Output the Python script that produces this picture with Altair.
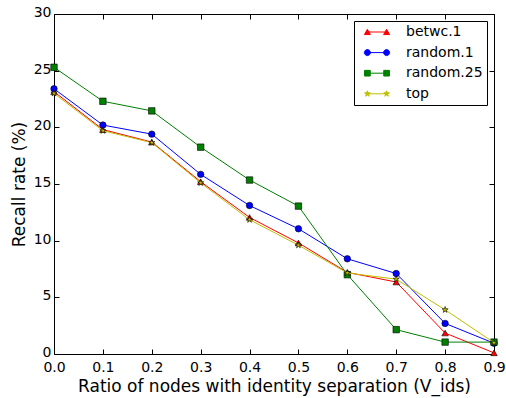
import altair as alt
import pandas as pd

# ---- data ----
x_vals = [0.0, 0.1, 0.2, 0.3, 0.4, 0.5, 0.6, 0.7, 0.8, 0.9]
betwc_1 = [23.15, 19.8, 18.7, 15.2, 12.05, 9.8, 7.2, 6.35, 1.85, 0.1]
random_1 = [23.4, 20.2, 19.4, 15.85, 13.1, 11.05, 8.4, 7.1, 2.7, 0.95]
random_25 = [25.3, 22.3, 21.45, 18.25, 15.35, 13.05, 7.0, 2.15, 1.05, 1.05]
top = [23.0, 19.7, 18.65, 15.1, 11.85, 9.6, 7.15, 6.6, 3.9, 1.0]

series_names = ["betwc.1", "random.1", "random.25", "top"]
series_values = [betwc_1, random_1, random_25, top]
colors = ["#ff0000", "#0000ff", "#008000", "#bfbf00"]

x_ticks = [0.0, 0.1, 0.2, 0.3, 0.4, 0.5, 0.6, 0.7, 0.8, 0.9]
y_ticks = [0, 5, 10, 15, 20, 25, 30]

# ---- marker shapes (unit coordinates) ----
STAR = ("M0,-1L0.225,-0.309L0.951,-0.309L0.363,0.118L0.588,0.809L0,0.382"
        "L-0.588,0.809L-0.363,0.118L-0.951,-0.309L-0.225,-0.309Z")
markers = ["triangle-up", "circle", "square", STAR]


def shifted(path_kind, dx):
    if path_kind == "tri":
        return f"M{dx},-0.9L{dx+1},0.85L{dx-1},0.85Z"
    if path_kind == "circ":
        return f"M{dx-1},0A1,1,0,1,1,{dx+1},0A1,1,0,1,1,{dx-1},0Z"
    if path_kind == "sq":
        return f"M{dx-0.95},-0.95L{dx+0.95},-0.95L{dx+0.95},0.95L{dx-0.95},0.95Z"
    pts = [(0, -1), (0.225, -0.309), (0.951, -0.309), (0.363, 0.118), (0.588, 0.809),
           (0, 0.382), (-0.588, 0.809), (-0.363, 0.118), (-0.951, -0.309), (-0.225, -0.309)]
    return "M" + "L".join(f"{px*1.0+dx:.3f},{py*1.0:.3f}" for px, py in pts) + "Z"


D = 3.2
legend_paths = []
for kind in ["tri", "circ", "sq", "star"]:
    legend_paths.append(f"M{-D},0L{D},0" + shifted(kind, -D) + shifted(kind, D))

rows = []
for name, vals in zip(series_names, series_values):
    for xv, yv in zip(x_vals, vals):
        rows.append({"x": xv, "y": yv, "series": name})
df = pd.DataFrame(rows)

W, H = 440, 340
FONT = "DejaVu Sans"

x_enc = alt.X(
    "x:Q",
    scale=alt.Scale(domain=[0, 0.9], nice=False, zero=False),
    axis=alt.Axis(
        values=x_ticks, format=".1f", labelFlush=False,
        title="Ratio of nodes with identity separation (V_ids)",
        grid=True, gridDash=[5, H - 10, 5, 2000], gridColor="black",
        gridWidth=1, gridOpacity=1,
    ),
)
y_enc = alt.Y(
    "y:Q",
    scale=alt.Scale(domain=[0, 30], nice=False, zero=False),
    axis=alt.Axis(
        values=y_ticks, format="d", title="Recall rate (%)", labelFlush=False,
        labelOffset=-1.5,
        grid=True, gridDash=[5, W - 10, 5, 2000], gridColor="black",
        gridWidth=1, gridOpacity=1,
    ),
)

base = alt.Chart(df)
layers = []
for name, col, mk in zip(series_names, colors, markers):
    sub = base.transform_filter(alt.datum.series == name)
    layers.append(sub.mark_line(color=col, strokeWidth=1).encode(x=x_enc, y=y_enc))
    layers.append(
        sub.mark_point(shape=mk, filled=True, fill=col, stroke="black",
                       strokeWidth=0.6, size=42, opacity=1).encode(x=x_enc, y=y_enc)
    )

leg = alt.Legend(title=None, symbolSize=36)
legend_layer = base.transform_filter("false").mark_point(
    filled=True, size=36, opacity=1, strokeWidth=1
).encode(
    x=x_enc, y=y_enc,
    fill=alt.Fill("series:N", scale=alt.Scale(domain=series_names, range=colors), legend=leg),
    stroke=alt.Stroke("series:N", scale=alt.Scale(domain=series_names, range=colors), legend=leg),
    shape=alt.Shape("series:N", scale=alt.Scale(domain=series_names, range=legend_paths), legend=leg),
)
layers.append(legend_layer)

chart = alt.layer(*layers).properties(
    width=W, height=H,
    autosize=alt.AutoSizeParams(type="none"),
    padding={"left": 54, "top": 14, "right": 12, "bottom": 44},
).configure(
    font=FONT,
).configure_view(
    stroke="black", strokeWidth=1,
).configure_axis(
    domainColor="black", domainWidth=1, ticks=False,
    labelFont=FONT, labelFontSize=14, labelColor="black",
    titleFont=FONT, titleFontSize=17, titleFontWeight="normal", titleColor="black",
).configure_axisX(
    labelPadding=6, titlePadding=4,
).configure_axisY(
    labelPadding=3, titlePadding=5,
).configure_legend(
    orient="top-right", offset=7, fillColor="white", strokeColor="black",
    padding=4, cornerRadius=0, labelFont=FONT, labelFontSize=14, labelColor="black",
    symbolOffset=12, labelOffset=22, rowPadding=6.6, symbolStrokeWidth=1,
    symbolSize=36,
)

chart.save("out.html", embed_options={"renderer": "svg", "actions": False})
